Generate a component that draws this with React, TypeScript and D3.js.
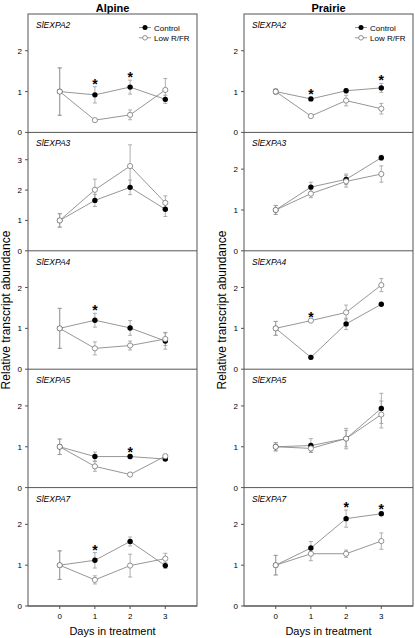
import React from "react";
import * as d3 from "d3";

const days = [0, 1, 2, 3];
const genes = ["SlEXPA2", "SlEXPA3", "SlEXPA4", "SlEXPA5", "SlEXPA7"];
const columns = ["Alpine", "Prairie"];
const seriesNames = ["Control", "Low R/FR"];

// Alpine
const alpineControl = [
  [1.0, 0.92, 1.11, 0.81],
  [1.0, 1.66, 2.09, 1.37],
  [1.0, 1.2, 1.01, 0.69],
  [1.0, 0.76, 0.76, 0.7],
  [1.0, 1.12, 1.58, 0.99],
];
const alpineControlErr = [
  [0.58, 0.2, 0.17, 0.1],
  [0.22, 0.2, 0.24, 0.24],
  [0.49, 0.17, 0.18, 0.2],
  [0.19, 0.11, 0.05, 0.03],
  [0.35, 0.19, 0.11, 0.07],
];
const alpineLow = [
  [1.0, 0.3, 0.43, 1.04],
  [1.0, 2.01, 2.79, 1.58],
  [1.0, 0.51, 0.58, 0.74],
  [1.0, 0.52, 0.32, 0.77],
  [1.0, 0.64, 0.99, 1.16],
];
const alpineLowErr = [
  [0.58, 0.03, 0.12, 0.28],
  [0.22, 0.35, 0.7, 0.23],
  [0.49, 0.16, 0.11, 0.16],
  [0.19, 0.12, 0.02, 0.03],
  [0.35, 0.1, 0.28, 0.13],
];
const alpineStarDays = [[1, 2], [], [1], [2], [1]];

// Prairie
const prairieControl = [
  [1.0, 0.82, 1.02, 1.09],
  [1.0, 1.56, 1.75, 2.28],
  [1.0, 0.29, 1.11, 1.59],
  [1.0, 1.03, 1.2, 1.94],
  [1.0, 1.42, 2.14, 2.26],
];
const prairieControlErr = [
  [0.06, 0.04, 0.05, 0.11],
  [0.11, 0.12, 0.13, 0.06],
  [0.17, 0.05, 0.14, 0.03],
  [0.1, 0.17, 0.2, 0.37],
  [0.24, 0.16, 0.21, 0.04],
];
const prairieLow = [
  [1.0, 0.4, 0.78, 0.58],
  [1.0, 1.4, 1.7, 1.88],
  [1.0, 1.19, 1.39, 2.06],
  [1.0, 0.96, 1.2, 1.79],
  [1.0, 1.28, 1.28, 1.59],
];
const prairieLowErr = [
  [0.06, 0.03, 0.13, 0.13],
  [0.11, 0.1, 0.14, 0.2],
  [0.17, 0.02, 0.18, 0.16],
  [0.1, 0.09, 0.25, 0.33],
  [0.24, 0.17, 0.09, 0.2],
];
const prairieStarDays = [[1, 3], [], [1], [], [2, 3]];

const yMaxAlpine = [2.9, 3.9, 2.9, 2.9, 2.9];
const yMaxPrairie = [2.9, 2.9, 2.9, 2.9, 2.9];
const yTicksAlpine = [[0, 1, 2], [0, 1, 2, 3], [0, 1, 2], [0, 1, 2], [0, 1, 2]];
const yTicksPrairie = [[0, 1, 2], [0, 1, 2], [0, 1, 2], [0, 1, 2], [0, 1, 2]];

const colData = [
  { c: alpineControl, ce: alpineControlErr, l: alpineLow, le: alpineLowErr, stars: alpineStarDays, ymax: yMaxAlpine, yt: yTicksAlpine },
  { c: prairieControl, ce: prairieControlErr, l: prairieLow, le: prairieLowErr, stars: prairieStarDays, ymax: yMaxPrairie, yt: yTicksPrairie },
];

const FONT = "'Liberation Sans', Arial, Helvetica, sans-serif";
const W = 415;
const H = 638;
const colLeft = [28, 244];
const colWidth = 169;
const top0 = 14;
const panelH = 118.4;
const LINE = "#8a8a8a";
const ERR = "#9a9a9a";
const AXIS = "#555";

export default function App() {
  return (
    <svg
      width={W}
      height={H}
      style={{ position: "absolute", left: 0, top: 0, background: "#fff" }}
      fontFamily={FONT}
    >
      {columns.map((title, ci) => {
        const x0 = colLeft[ci];
        const x = d3.scaleLinear().domain([-0.9, 3.9]).range([x0, x0 + colWidth]);
        const d = colData[ci];
        const bottom = top0 + panelH * genes.length;
        return (
          <g key={title}>
            <text x={x0 + colWidth / 2} y={12} textAnchor="middle" fontSize={11} fontWeight="bold">
              {title}
            </text>
            <rect x={x0} y={top0} width={colWidth} height={bottom - top0} fill="none" stroke={AXIS} strokeWidth={1} />
            {genes.map((g, gi) => {
              const pt = top0 + panelH * gi;
              const y = d3.scaleLinear().domain([0, d.ymax[gi]]).range([pt + panelH, pt]);
              const line = d3
                .line<number>()
                .x((_, i) => x(days[i]))
                .y((v) => y(v));
              const ctrl = d.c[gi];
              const ctrlE = d.ce[gi];
              const low = d.l[gi];
              const lowE = d.le[gi];
              return (
                <g key={g}>
                  <line x1={x0} x2={x0 + colWidth} y1={y(0)} y2={y(0)} stroke={AXIS} strokeWidth={1} />
                  {d.yt[gi].map((t) => (
                    <g key={t}>
                      <line x1={x0 - 3} x2={x0} y1={y(t)} y2={y(t)} stroke={AXIS} />
                      <text x={x0 - 6} y={y(t) + 3} textAnchor="end" fontSize={8}>
                        {t}
                      </text>
                    </g>
                  ))}
                  <text x={x0 + 8} y={pt + 14} fontSize={8.5} fontStyle="italic">
                    {g}
                  </text>
                  {[
                    { v: ctrl, e: ctrlE },
                    { v: low, e: lowE },
                  ].map((s, si) =>
                    s.v.map((v, i) => {
                      const cx = x(days[i]);
                      const yt = y(v + s.e[i]);
                      const yb = y(v - s.e[i]);
                      return (
                        <g key={`e${si}-${i}`} stroke={ERR} strokeWidth={0.8}>
                          <line x1={cx} x2={cx} y1={yt} y2={yb} />
                          <line x1={cx - 2} x2={cx + 2} y1={yt} y2={yt} />
                          <line x1={cx - 2} x2={cx + 2} y1={yb} y2={yb} />
                        </g>
                      );
                    })
                  )}
                  <path d={line(ctrl) || ""} fill="none" stroke={LINE} strokeWidth={0.9} />
                  <path d={line(low) || ""} fill="none" stroke={LINE} strokeWidth={0.9} />
                  {ctrl.map((v, i) => (
                    <circle key={`c${i}`} cx={x(days[i])} cy={y(v)} r={2.7} fill="#000" />
                  ))}
                  {low.map((v, i) => (
                    <circle key={`l${i}`} cx={x(days[i])} cy={y(v)} r={2.6} fill="#fff" stroke="#777" strokeWidth={0.8} />
                  ))}
                  {d.stars[gi].map((day) => {
                    const i = days.indexOf(day);
                    const topV = Math.max(ctrl[i] + ctrlE[i], low[i] + lowE[i]);
                    const cy = y(topV) - 6;
                    return (
                      <text key={`s${day}`} x={x(day)} y={cy + 8} textAnchor="middle" fontSize={14} fontWeight="bold">
                        *
                      </text>
                    );
                  })}
                  {gi === 0 && (
                    <g>
                      {seriesNames.map((nm, si) => {
                        const ly = 27.5 + si * 10.3;
                        const lx = x0 + colWidth - 58;
                        return (
                          <g key={nm}>
                            <line x1={lx} x2={lx + 12} y1={ly} y2={ly} stroke={LINE} strokeWidth={0.9} />
                            {si === 0 ? (
                              <circle cx={lx + 6} cy={ly} r={2.5} fill="#000" />
                            ) : (
                              <circle cx={lx + 6} cy={ly} r={2.3} fill="#fff" stroke="#777" strokeWidth={0.8} />
                            )}
                            <text x={lx + 15} y={ly + 3} fontSize={8}>
                              {nm}
                            </text>
                          </g>
                        );
                      })}
                    </g>
                  )}
                </g>
              );
            })}
            {days.map((t) => (
              <g key={t}>
                <line x1={x(t)} x2={x(t)} y1={bottom} y2={bottom + 3} stroke={AXIS} />
                <text x={x(t)} y={bottom + 13} textAnchor="middle" fontSize={8}>
                  {t}
                </text>
              </g>
            ))}
            <text x={x0 + colWidth / 2} y={635} textAnchor="middle" fontSize={11}>
              Days in treatment
            </text>
            <text
              transform={`translate(${x0 - 18},${(top0 + bottom) / 2}) rotate(-90)`}
              textAnchor="middle"
              fontSize={12}
            >
              Relative transcript abundance
            </text>
          </g>
        );
      })}
    </svg>
  );
}
